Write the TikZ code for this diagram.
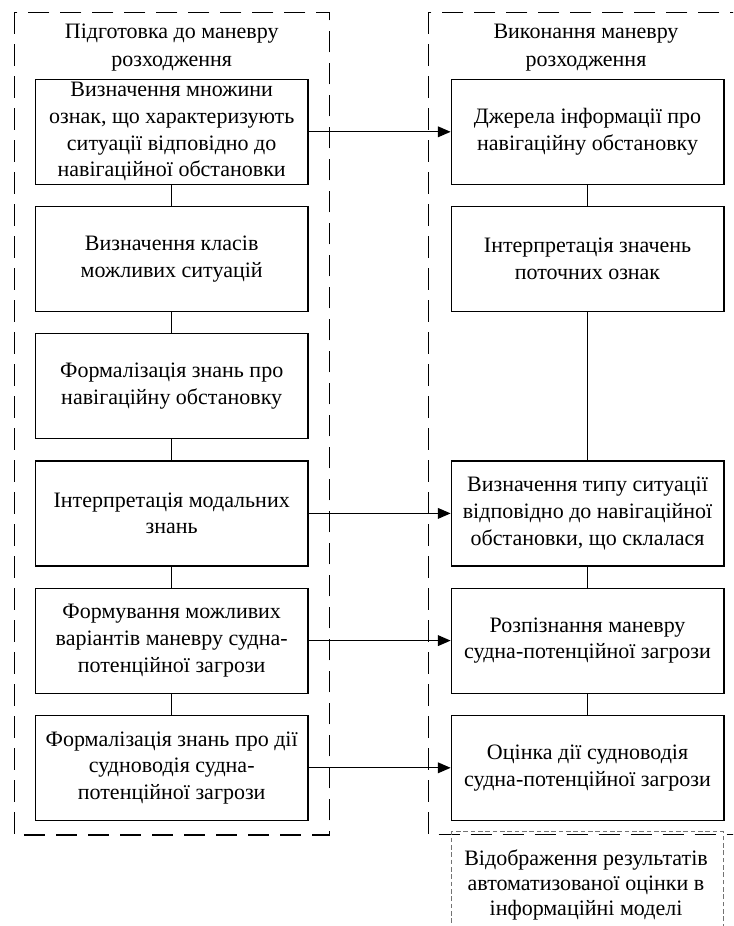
\documentclass[tikz,border=0pt]{standalone}
\usepackage{fontspec}
\setmainfont{Liberation Serif}
\usetikzlibrary{arrows.meta,positioning}

\begin{document}
\begin{tikzpicture}[x=0.75pt,y=-0.75pt,
    node distance=15.75pt,
    stage/.style={draw,line width=0.9pt,minimum width=204.5pt,minimum height=78.75pt,
      inner sep=0pt,align=center,font=\fontsize{16.5}{20}\selectfont},
    heading/.style={align=center,inner sep=0pt,font=\fontsize{16.5}{21.5}\selectfont},
    frame/.style={line width=0.9pt,dash pattern=on 16pt off 8pt},
    link/.style={line width=0.9pt},
    flow/.style={line width=0.9pt,-{Triangle[length=9.5pt,width=8pt]}}]
    % Page
    \clip (0,0) rectangle (733,926);

    % Frames
    \draw[frame] (14.7,12.3) rectangle (329.3,835);
    \draw[frame] (428.7,12.3) rectangle (760,834.3);
    \node[heading] (ptitle) at (171.7,47.5) {Підготовка до маневру\\розходження};
    \node[heading] (vtitle) at (586,47.5) {Виконання маневру\\розходження};

    % Preparation column
    \node[stage] (p1) at (171.7,131.8)
      {Визначення множини\\ознак, що характеризують\\ситуації відповідно до\\навігаційної обстановки};
    \node[stage,below=of p1] (p2) {Визначення класів\\можливих ситуацій};
    \node[stage,below=of p2] (p3) {Формалізація знань про\\навігаційну обстановку};
    \node[stage,below=of p3] (p4) {Інтерпретація модальних\\знань};
    \node[stage,below=of p4] (p5) {Формування можливих\\варіантів маневру судна-\\потенційної загрози};
    \node[stage,below=of p5] (p6) {Формалізація знань про дії\\судноводія судна-\\потенційної загрози};

    % Execution column
    \node[stage,right=106.5pt of p1] (v1) {Джерела інформації про\\навігаційну обстановку};
    \node[stage,below=of v1] (v2) {Інтерпретація значень\\поточних ознак};
    \node[stage,right=106.5pt of p4] (v3)
      {Визначення типу ситуації\\відповідно до навігаційної\\обстановки, що склалася};
    \node[stage,below=of v3] (v4) {Розпізнання маневру\\судна-потенційної загрози};
    \node[stage,below=of v4] (v5) {Оцінка дії судноводія\\судна-потенційної загрози};

    % Output (grey)
    \node[stage,draw=black!55,line width=0.75pt,dash pattern=on 3.5pt off 2pt,
      minimum width=203.5pt,minimum height=100pt,below=7.7pt of v5] (disp) {};
    \node[heading,font=\fontsize{16.5}{18.8}\selectfont] (disptext) at (586,885)
      {Відображення результатів\\автоматизованої оцінки в\\інформаційні моделі};

    % Vertical links
    \foreach \a/\b in {p1/p2,p2/p3,p3/p4,p4/p5,p5/p6,v1/v2,v2/v3,v3/v4,v4/v5}
      \draw[link] (\a.south) -- (\b.north);

    % Arrows between columns
    \foreach \a/\b in {p1/v1,p4/v3,p5/v4,p6/v5}
      \draw[flow] (\a.east) -- (\b.west);
\end{tikzpicture}
\end{document}
